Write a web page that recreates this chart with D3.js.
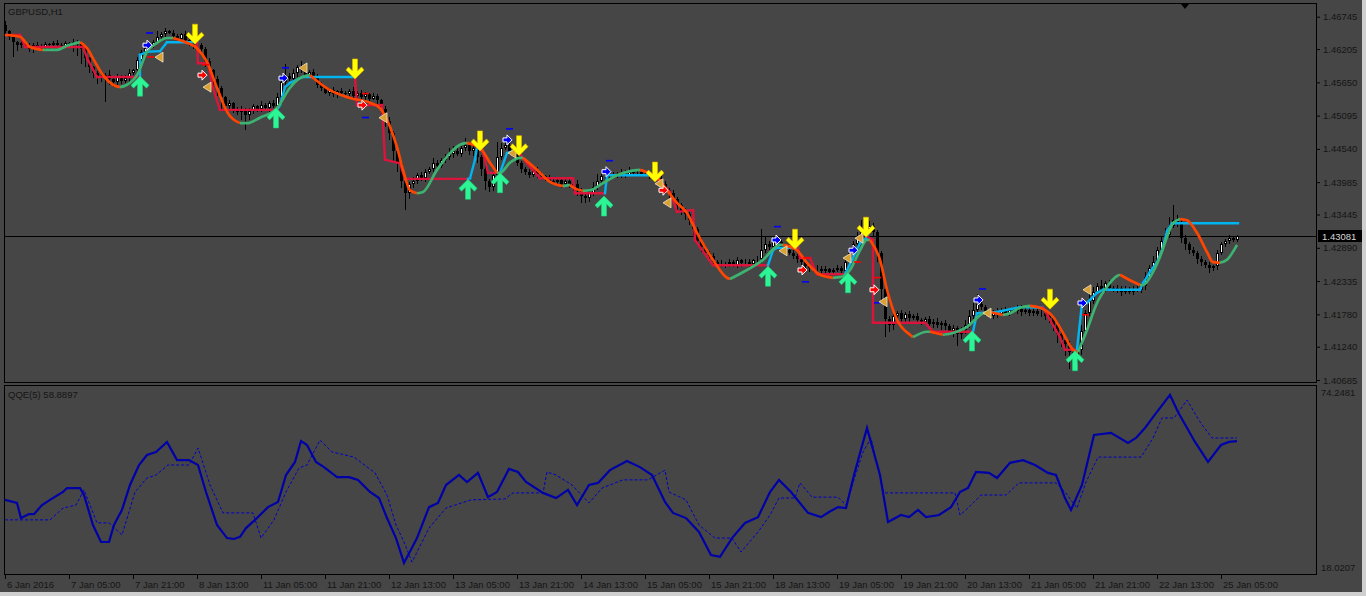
<!DOCTYPE html>
<html>
<head>
<meta charset="utf-8">
<script src="https://cdn.jsdelivr.net/npm/d3@7"></script>
<style>
  body { margin: 0; background: #464646; }
  svg { display: block; }
  text { font-family: "Liberation Sans", Arial, sans-serif; font-size: 9.5px; fill: #151515; }
</style>
</head>
<body>
<svg id="chart" width="1366" height="596"></svg>
<script>
/* GBPUSD H1 with trend ribbon, trailing stop and QQE(5) */

// ---------- data (prices in pips above 1.4000) ----------
const basePrice = 1.4;

const closePips = [
650,640,632,628,
630,625,620,628,626,624,629,627,631,628,625,630,628,632,629,
620,605,590,580,575,
572,578,570,565,575,568,572,580,
585,602,615,622,627,632,
640,645,650,648,642,638,645,
635,630,625,628,620,
600,585,570,555,
540,525,530,520,515,520,510,518,
525,520,528,522,530,526,540,
565,575,570,
580,590,585,578,582,575,
560,555,548,552,545,550,548,
545,550,542,548,540,545,538,542,535,
520,500,480,
450,430,400,380,395,
400,410,405,415,420,430,425,435,440,445,
450,445,455,460,450,455,
440,420,400,390,410,
440,455,460,450,445,
430,420,415,410,418,412,408,
405,400,398,402,395,400,392,396,
385,375,372,380,390,
400,408,410,412,
410,412,414,411,415,413,416,412,414,410,408,405,
395,385,380,370,360,350,345,335,
320,300,290,280,275,
265,262,260,
262,265,260,268,263,266,262,268,270,
285,295,290,300,298,
290,285,280,275,270,
265,258,255,252,
254,250,253,249,252,255,251,
265,280,295,305,315,
320,325,315,
280,220,170,160,
175,180,170,178,172,176,
168,165,170,162,166,160,164,
158,150,155,145,152,160,
175,185,195,190,
180,175,182,178,185,180,186,183,188,
182,186,180,184,178,
180,175,172,
160,145,135,128,
115,110,118,
150,180,200,
215,225,220,230,222,
218,222,215,220,216,221,218,225,
240,255,265,
285,300,310,
325,335,330,
305,295,285,
280,270,265,260,255,258,
280,295,300,
305,302,308
];
const firstOpen = 660;

// wick length above / below the body, pips
const wickUp = [
8,3,5,2,4,3,6,2,5,3, 4,2,3,5,2,4,3,6,3,4, 5,3,2,4,6,3,8,2,4,3, 5,7,3,6,4,8,5,3,10,4,
6,3,5,4,2,5,3,4,6,3, 4,5,3,6,4,3,5,2,4,6, 3,5,4,2,6,3,4,5,8,12, 20,6,8,4,10,5,3,6,4,5,
3,4,6,3,5,2,4,7,3,5, 4,3,6,4,3,5,8,4,6,3, 5,4,7,3,6,5,4,8,5,3, 6,10,8,5,4,12,6,3,5,4,
6,3,5,25,8,10,4,6,5,3, 4,6,3,5,4,3,6,4,5,3, 4,5,3,6,4,5,3,8,12,6, 4,5,3,4,6,5,8,4,3,5,
4,3,5,2,4,6,3,5,4,3, 5,4,6,3,5,4,3,5,4,6, 3,5,4,6,3,5,4,3,5,35, 12,6,8,5,4,6,3,5,4,3,
5,4,3,6,4,5,3,4,5,3, 6,8,5,10,20,12,8,5,4,3, 5,6,4,3,5,4,6,3,5,4, 3,5,4,6,3,5,4,6,3,5,
8,10,12,17,6,4,5,3,6,4, 5,3,4,6,5,4,3,5,4,6, 3,5,4,6,3,4,5,6,8,10, 6,12,8,5,10,4,6,3,5,4,
6,3,5,4,6,8,5,10,6,8, 12,15,25,8,6,5,4,6,3,5, 4,6,3,5,4,3,5,4,3
];
const wickDn = [
6,4,25,10,5,3,4,6,3,5, 4,6,3,5,4,3,6,12,20,25, 15,10,8,12,6,40,10,8,6,5, 4,6,3,5,4,3,5,4,3,6,
4,3,5,6,4,3,5,4,3,6, 10,8,15,12,20,10,8,6,5,12, 25,8,6,4,5,3,6,4,5,3, 4,3,5,6,4,5,3,6,4,5,
3,5,4,6,3,4,5,6,4,3, 5,4,3,6,8,10,12,20,15,12, 28,10,6,5,4,6,3,5,4,3, 5,4,6,3,5,4,6,8,10,12,
15,8,6,4,5,3,6,4,5,6, 4,5,3,6,4,5,3,4,5,6, 4,3,8,10,12,8,6,4,5,3, 4,5,3,4,6,5,3,4,5,3,
4,6,5,3,8,6,10,5,8,6, 10,8,12,6,8,5,4,6,5,3, 4,5,3,4,6,3,5,4,3,6, 4,5,3,6,4,5,3,4,6,8,
5,6,4,5,3,6,4,5,3,4, 5,3,4,6,3,5,4,8,15,20, 30,12,8,6,5,4,6,3,5,4, 5,3,6,4,8,6,5,10,20,8,
6,4,5,3,4,5,3,4,6,3, 4,5,3,4,6,3,5,4,3,5, 6,8,10,15,12,20,28,25,15,8, 6,4,5,3,6,4,5,3,4,6,
3,4,5,3,4,6,3,5,4,6, 5,4,3,6,8,10,6,5,8,6, 5,8,4,6,3,5,4,3,4
];

// smooth trend line (bar position, pips)
const maBar = [0,3.75,6.25,9.5,13,15.5,18.75,20.5,22.5,24.5,27,28.75,30.5,33,35.5,38,40.5,42,45.5,48,
  50.5,53,55.5,58.75,60.5,63.75,68,71.25,73.75,76.25,81.25,86.25,91.25,93.75,96.25,98,99.5,101.25,103,104.5,
  108,111.25,113.75,115.5,117,118.75,121.25,123,123.75,126.25,128.75,129.5,133,136.25,139.5,141.25,142,144.5,146.25,149.5,
  153,156.25,158.75,160.5,163,165.5,168,170.5,173,177,180.5,181.25,185.5,189.5,193.75,194.5,198,200.5,203.75,207,
  208.75,211.25,213.75,215.5,216.25,218.75,220.5,223,226.25,227,230.5,231.25,234.5,237,240.5,243,244.5,246.25,249.5,251.25,
  253.75,256.25,258.75,262,264.5,267,268.25,270.5,273,275.5,278,278.75,281.25,283.75,284.5,286.25,288.75,290.5,292,293.75,
  295.5,298,300.5,302,303.75,305.5,308];
const maVal = [644,641,624,619,619,626,632,622,599,577,561,557,561,577,616,631,639,639,631,622,
  599,556,516,497,497,506,522,556,572,577,552,539,531,522,491,457,419,385,380,382,
  419,447,461,464,461,456,431,414,414,431,439,439,419,399,392,394,390,384,385,397,
  410,417,419,415,407,385,364,347,314,269,239,237,252,269,294,294,285,264,244,239,
  240,252,285,302,302,269,219,169,144,140,149,149,144,147,157,172,180,182,177,180,
  189,192,189,174,147,119,115,152,197,224,242,244,235,227,227,240,274,307,330,337,
  335,314,282,265,264,269,294];

// trailing stop vertices; colour of the segment that leaves each vertex
const stopBar = [0,3.75,5,19.5,20.75,23,33.75,33.75,35.5,38.75,40.5,48,48.25,50.75,52,53.75,68,68.75,70,71.25,
  74.5,87.5,88,94.25,95,98.75,100,115.75,116.25,117.5,118,119.5,120.75,123.75,125.5,128,130.5,133.75,142,142.5,
  150,150.5,161.25,163.25,166.25,168,172,172.5,177,190.75,192,193,198.25,198.75,201.25,203,210,211.75,213.75,215.75,
  217,217,230,232,242,243,248,253.75,259.5,263.75,265,268,269.25,270.5,273,274.5,283.75,284.5,286.25,288,
  289.25,290.5,291.75,308.25];
const stopVal = [644,644,624,624,602,574,574,611,616,617,632,632,597,597,556,519,519,527,557,564,
  574,574,527,527,436,430,404,404,405,436,457,449,414,414,447,452,430,405,405,380,
  380,410,410,402,382,349,352,302,260,260,285,289,289,272,272,245,245,269,297,307,
  302,164,164,149,149,180,182,190,189,140,119,119,197,197,214,219,219,230,249,265,
  285,317,330,330];
const stopCol = "rrrrrrbbbbbrrrrrbbbbbrrrrrrbbbrrrbbrrrrrbbrrrrrrrbbbrrrrbbbrrrrrbbbbrrrbbbbbbbbbbbbb";

// signal arrows (bar, pips)
const sellArrowBar = [47.5,87.5,118.75,128.5,162.5,197.5,215.25,261.25];
const sellArrowVal = [627,569,449,441,397,285,305,185];
const buyArrowBar = [33.75,67.75,115.75,123.75,149.75,190.75,210.75,241.75,267.5];
const buyArrowVal = [577,524,405,416,377,260,249,152,119];

// small markers
const blueMarkBar = [35.5,69.5,125.5,150.25,192.75,212,243.25,269.25];
const blueMarkVal = [627,572,469,416,302,285,202,197];
const redMarkBar = [49.25,89.25,164.5,199.25,217.25];
const redMarkVal = [577,527,385,252,219];
const exitMarkBar = [38.5,50.5,74.5,94.5,126.75,163.5,165.5,194.5,210.5,213.5,219.5,245.5,270.5];
const exitMarkVal = [607,557,589,506,447,396,364,284,272,305,199,180,219];
const blueDashBar = [36,70,90,126,151,193,200,244.25,218];
const blueDashVal = [647,589,506,487,434,324,232,220,197];
const redDashBar = [36.25,50,90,200.25,218,213,270];
const redDashVal = [607,594,546,272,239,265,177];

// QQE(5)
const qqeBar = [0,3,4,6,7.25,9.25,11.25,14.5,15.5,18.75,19.75,22,24,26,27.25,29.25,31.25,33.5,35.5,37.75,
  40.5,43,46,48.25,50.25,53,55.5,57.25,58.75,60.25,63,65.75,68.25,70.25,72.5,74,75.5,77.75,79.75,83,
  86,88.25,91.25,93.5,95.5,97.75,99.75,103,106,108.25,110.25,113.5,115.5,118.25,120.75,123,126,128.25,130.25,134.5,
  137.75,140.75,143,146,148.25,151.25,155.5,158.75,161.75,165,167,170.25,173.5,176.5,178.75,181.75,185,188.25,191.25,193.5,
  196.5,200.75,204,206,208.25,210.25,212.25,215.5,218.75,220.75,224,226,228.25,230.25,233.5,236.5,238.75,240.75,242.75,246,
  248,251.25,254.5,257.5,260.75,262.75,265,266.5,269.25,272.25,276.5,280.75,282.75,285,287,291.25,293.25,297.5,300.75,304,
  306,308];
const qqeVal = [39.5,38.5,33.5,34.8,34.8,37.8,39.5,42.1,43.4,43.4,41.1,31.2,25.6,25.6,31.2,36.2,44.4,51.0,54.3,55.3,
  58.6,52.6,52.6,51.0,42.1,31.2,26.9,26.6,27.3,30.2,33.5,37.1,38.8,47.7,52.0,58.9,57.6,52.0,50.3,47.0,
  47.0,46.1,42.1,40.1,33.5,26.9,18.7,26.9,37.1,38.5,44.4,47.7,45.4,48.4,40.4,42.1,49.7,48.7,45.4,41.8,
  40.1,42.8,37.8,44.4,45.1,49.3,52.3,50.3,47.7,38.8,35.2,33.5,28.9,21.3,20.7,26.9,31.9,33.8,42.1,46.1,
  42.1,35.2,33.8,35.5,37.1,36.8,47.7,63.2,47.7,32.2,34.5,33.8,36.2,33.8,34.5,37.1,42.1,43.4,48.7,48.4,
  46.7,51.7,52.6,51.0,48.4,47.7,40.1,36.2,44.4,60.9,61.6,58.3,59.9,63.2,66.8,74.1,68.5,58.6,52.0,57.6,
  58.6,58.9];
const sigBar = [0,11.25,14.5,17.75,19.75,23,26,29.25,32.5,35.5,37.75,40.75,46,48.25,51.25,54.5,62,64,67.25,70.25,
  73.5,75.5,78.75,81.75,87.25,92.5,95.5,97.75,99.75,101.75,106,110.25,116.5,125,127,134.5,135.5,137.75,141.75,146,
  149.25,154.5,160.75,165,166,170.25,173.5,177.5,181.75,184,188.25,191.25,193.5,197.5,198.75,201.75,208.25,210.25,214.5,216.5,
  219.75,237.5,238.75,240.75,244,250.25,253.5,262.75,265,268,270.25,273.25,284,287,289.25,292.25,295.5,298.75,301.75,308];
const sigVal = [32.9,32.9,36.8,37.8,42.8,31.9,31.9,27.9,42.1,46.7,47.7,51.0,51.0,56.6,44.4,35.2,35.2,26.9,32.9,42.1,
  50.0,51.0,59.2,55.3,53.6,48.4,41.1,31.2,25.6,19.0,30.2,36.8,39.5,39.8,41.8,41.8,48.7,47.7,44.4,38.5,
  43.4,46.1,46.1,49.3,42.1,39.5,31.2,26.9,26.9,22.3,28.9,34.5,40.1,40.1,45.1,40.4,40.4,37.8,55.3,59.9,
  41.8,41.8,34.5,36.8,41.1,41.1,45.1,45.1,42.1,36.8,45.4,53.6,53.6,59.9,66.5,66.5,72.4,65.2,59.9,59.9];
const qqeLast = 58.8897;

// axis labels
const priceTicks = [1.46745,1.46205,1.45650,1.45095,1.44540,1.43985,1.43445,1.42890,1.42335,1.41780,1.41240,1.40685];
const timeLabels = ["6 Jan 2016","7 Jan 05:00","7 Jan 21:00","8 Jan 13:00","11 Jan 05:00","11 Jan 21:00",
  "12 Jan 13:00","13 Jan 05:00","13 Jan 21:00","14 Jan 13:00","15 Jan 05:00","15 Jan 21:00","18 Jan 13:00",
  "19 Jan 05:00","19 Jan 21:00","20 Jan 13:00","21 Jan 05:00","21 Jan 21:00","22 Jan 13:00","25 Jan 05:00"];
const barsPerLabel = 16;
const lastPrice = 1.43081;
const qqeMax = 74.2481, qqeMin = 18.0207;

// ---------- layout ----------
const svg = d3.select('#chart');
const px = d3.scaleLinear().domain([0, 308]).range([5, 1237]);
const py = d3.scaleLinear().domain([1.40685, 1.46745]).range([380, 16.7]);
const qy = d3.scaleLinear().domain([qqeMin, qqeMax]).range([565, 394.5]);
const price = p => basePrice + p / 10000;
const yp = p => py(price(p));

svg.append('rect').attr('width', 1366).attr('height', 596).attr('fill', '#464646');
svg.append('rect').attr('x', 1362).attr('y', 0).attr('width', 4).attr('height', 596).attr('fill', '#cfcfcf');
svg.append('rect').attr('x', 0).attr('y', 592).attr('width', 1366).attr('height', 4).attr('fill', '#cfcfcf');

const defs = svg.append('defs');
defs.append('clipPath').attr('id', 'clipP').append('rect').attr('x', 5).attr('y', 4).attr('width', 1311).attr('height', 378);
defs.append('clipPath').attr('id', 'clipQ').append('rect').attr('x', 5).attr('y', 386).attr('width', 1311).attr('height', 188);

const gP = svg.append('g').attr('clip-path', 'url(#clipP)');
const gQ = svg.append('g').attr('clip-path', 'url(#clipQ)');

// ---------- candles ----------
const candles = closePips.map((c, i) => {
  const o = i === 0 ? firstOpen : closePips[i - 1]; // H1 bars open at the prior close
  return { i, o, c, h: Math.max(o, c) + wickUp[i], l: Math.min(o, c) - wickDn[i] };
});

const cg = gP.append('g');
candles.forEach(d => {
  const x = Math.round(px(d.i));
  cg.append('line').attr('x1', x + 0.5).attr('x2', x + 0.5)
    .attr('y1', Math.round(yp(d.h))).attr('y2', Math.round(yp(d.l)))
    .attr('stroke', '#000').attr('stroke-width', 1);
  const top = Math.round(yp(Math.max(d.o, d.c)));
  const bot = Math.round(yp(Math.min(d.o, d.c)));
  const h = Math.max(1, bot - top);
  if (d.c > d.o) {
    cg.append('rect').attr('x', x - 0.5).attr('y', top + 0.5).attr('width', 2).attr('height', Math.max(0, h - 1))
      .attr('fill', '#fff').attr('stroke', '#000').attr('stroke-width', 1);
  } else {
    cg.append('rect').attr('x', x - 1).attr('y', top).attr('width', 3).attr('height', h).attr('fill', '#000');
  }
});

// current price line
gP.append('line').attr('x1', 4).attr('x2', 1317).attr('y1', Math.round(py(lastPrice)) + 0.5).attr('y2', Math.round(py(lastPrice)) + 0.5)
  .attr('stroke', '#000').attr('stroke-width', 1);

// ---------- trailing stop ----------
const lineP = d3.line().x(d => px(d[0])).y(d => yp(d[1]));
for (let k = 0; k < stopBar.length - 1; k++) {
  gP.append('path')
    .attr('d', lineP([[stopBar[k], stopVal[k]], [stopBar[k + 1], stopVal[k + 1]]]))
    .attr('fill', 'none').attr('stroke-width', 2.4).attr('stroke-linecap', 'square')
    .attr('stroke', stopCol[k] === 'b' ? '#00b4f0' : '#dc143c');
}

// ---------- smooth trend line, green rising / orange falling ----------
const curveP = d3.line().x(d => px(d[0])).y(d => yp(d[1])).curve(d3.curveMonotoneX);
let runStart = 0;
const upAt = k => maVal[k + 1] >= maVal[k];
for (let k = 0; k < maBar.length - 1; k++) {
  if (k === maBar.length - 2 || upAt(k + 1) !== upAt(k)) {
    const pts = [];
    for (let j = runStart; j <= k + 1; j++) pts.push([maBar[j], maVal[j]]);
    gP.append('path').attr('d', curveP(pts)).attr('fill', 'none')
      .attr('stroke', upAt(k) ? '#3cb371' : '#ff4500').attr('stroke-width', 2.7);
    runStart = k + 1;
  }
}

// ---------- markers ----------
const poly = pts => 'M' + pts.map(p => p.join(',')).join('L') + 'Z';
const arrowDown = [[-2.5,-21],[2.5,-21],[2.5,-9],[6.5,-13],[9,-10],[0,-1],[-9,-10],[-6.5,-13],[-2.5,-9]];
const arrowUp = arrowDown.map(p => [p[0], -p[1]]);

gP.selectAll('.dash-b').data(blueDashBar).join('rect')
  .attr('x', (d, i) => px(d) - 3).attr('y', (d, i) => yp(blueDashVal[i]) - 1)
  .attr('width', 7).attr('height', 1.6).attr('fill', '#0000ff');
gP.selectAll('.dash-r').data(redDashBar).join('rect')
  .attr('x', (d, i) => px(d) - 3).attr('y', (d, i) => yp(redDashVal[i]) - 1)
  .attr('width', 7).attr('height', 1.6).attr('fill', '#ff0000');

const rightArrow = [[-4,-2],[0,-2],[0,-5],[5,0],[0,5],[0,2],[-4,2]];
blueMarkBar.forEach((b, i) => {
  gP.append('path').attr('d', poly(rightArrow)).attr('transform', `translate(${px(b)},${yp(blueMarkVal[i])})`)
    .attr('fill', '#0000ff').attr('stroke', '#fff').attr('stroke-width', 1);
});
redMarkBar.forEach((b, i) => {
  gP.append('path').attr('d', poly(rightArrow)).attr('transform', `translate(${px(b)},${yp(redMarkVal[i])})`)
    .attr('fill', '#ff0000').attr('stroke', '#fff').attr('stroke-width', 1);
});
exitMarkBar.forEach((b, i) => {
  gP.append('path').attr('d', poly([[4,-5],[4,5],[-4,0]])).attr('transform', `translate(${px(b)},${yp(exitMarkVal[i])})`)
    .attr('fill', '#d9a032').attr('stroke', '#f3e6c8').attr('stroke-width', 0.8);
});

sellArrowBar.forEach((b, i) => {
  gP.append('path').attr('d', poly(arrowDown)).attr('transform', `translate(${px(b)},${yp(sellArrowVal[i])})`)
    .attr('fill', '#ffff00').attr('stroke', '#e8b000').attr('stroke-width', 0.6);
});
buyArrowBar.forEach((b, i) => {
  gP.append('path').attr('d', poly(arrowUp)).attr('transform', `translate(${px(b)},${yp(buyArrowVal[i])})`)
    .attr('fill', '#2cf595').attr('stroke', '#1fd07a').attr('stroke-width', 0.6);
});

// ---------- QQE ----------
const lineQ = d3.line().x(d => px(d[0])).y(d => qy(d[1]));
gQ.append('path').attr('d', lineQ(sigBar.map((b, i) => [b, sigVal[i]])))
  .attr('fill', 'none').attr('stroke', '#0000c8').attr('stroke-width', 1).attr('stroke-dasharray', '3,2');
gQ.append('path').attr('d', lineQ(qqeBar.map((b, i) => [b, qqeVal[i]])))
  .attr('fill', 'none').attr('stroke', '#0000a8').attr('stroke-width', 2.2);

// ---------- frames ----------
svg.append('rect').attr('x', 4.5).attr('y', 3.5).attr('width', 1312).attr('height', 379)
  .attr('fill', 'none').attr('stroke', '#000');
svg.append('rect').attr('x', 4.5).attr('y', 385.5).attr('width', 1312).attr('height', 189)
  .attr('fill', 'none').attr('stroke', '#000');
svg.append('path').attr('d', 'M1181,4L1189,4L1185,9Z').attr('fill', '#000');

// ---------- axes ----------
const yAxis = d3.axisRight(py).tickValues(priceTicks).tickFormat(d3.format('.5f')).tickSize(3).tickPadding(3);
const ya = svg.append('g').attr('transform', 'translate(1317,0)').call(yAxis);
ya.select('.domain').remove();
ya.selectAll('line').attr('stroke', '#000');
ya.selectAll('text').attr('fill', '#151515').style('font-size', '9.5px').attr('font-family', null);

svg.append('rect').attr('x', 1318).attr('y', Math.round(py(lastPrice)) - 6).attr('width', 44).attr('height', 12).attr('fill', '#000');
svg.append('text').attr('x', 1322).attr('y', Math.round(py(lastPrice)) + 3.5).style('fill', '#d8d8d8').text(d3.format('.5f')(lastPrice));

svg.append('text').attr('x', 1321).attr('y', 396).text(qqeMax.toFixed(4));
svg.append('text').attr('x', 1321).attr('y', 571).text(qqeMin.toFixed(4));

const tickBars = timeLabels.map((t, i) => i * barsPerLabel);
const xa = svg.append('g').attr('transform', 'translate(0,575)');
tickBars.forEach((b, i) => {
  const x = Math.round(px(b)) + 0.5;
  xa.append('line').attr('x1', x).attr('x2', x).attr('y1', 0).attr('y2', 4).attr('stroke', '#000');
  xa.append('text').attr('x', x + 1.5).attr('y', 13).text(timeLabels[i]);
});

// titles
svg.append('text').attr('x', 8).attr('y', 15).text('GBPUSD,H1');
svg.append('text').attr('x', 8).attr('y', 398).text('QQE(5) ' + qqeLast.toFixed(4));
</script>
</body>
</html>
